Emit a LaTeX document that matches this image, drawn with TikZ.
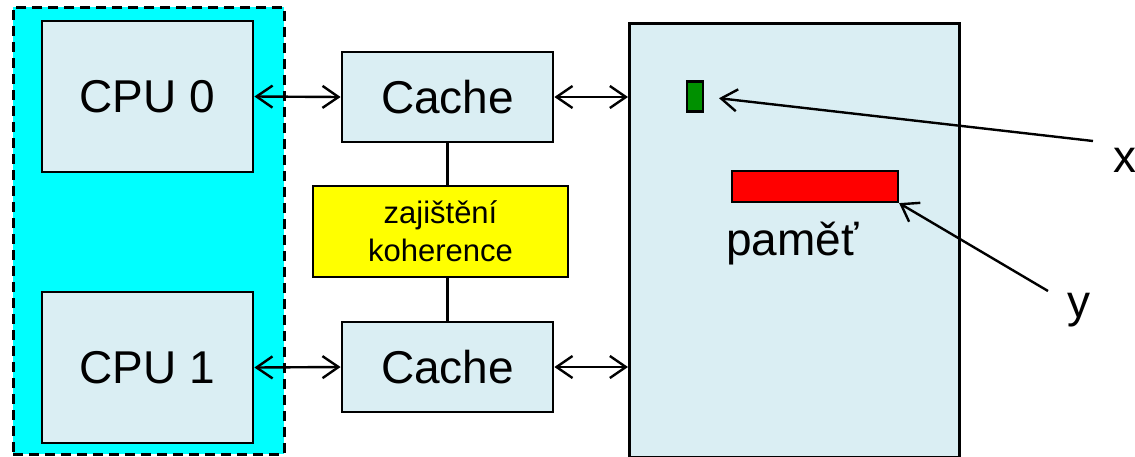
\documentclass[tikz,border=0pt]{standalone}
\usepackage{fontspec}
\setmainfont{Liberation Sans}
\usetikzlibrary{arrows.meta}
\definecolor{boxblue}{HTML}{DAEEF3}
\definecolor{cyanbg}{HTML}{00FFFF}
\definecolor{yel}{HTML}{FFFF00}
\definecolor{grn}{HTML}{009000}
\definecolor{rd}{HTML}{FF0000}
\tikzset{
  unitbox/.style={draw=black, line width=2.8pt, fill=boxblue, inner sep=0pt, font=\fontsize{46}{50}\selectfont},
  lbl/.style={inner sep=0pt, font=\fontsize{46}{50}\selectfont},
  biarr/.style={line width=2.4pt, {Straight Barb[length=16pt,width=22pt]}-{Straight Barb[length=16pt,width=22pt]}},
  onearr/.style={line width=2.4pt, -{Straight Barb[length=16pt,width=22pt]}},
  link/.style={line width=2.4pt}
}
\begin{document}
\begin{tikzpicture}[x=1pt,y=-1pt]
\useasboundingbox (0,0) rectangle (1135,456);
% cyan dashed area
\node[draw=black, fill=cyanbg, line width=2.6pt, dash pattern=on 10pt off 6pt, inner sep=0pt,
      minimum width=271pt, minimum height=447pt, anchor=north west] (area) at (12,6) {};
% memory
\node[unitbox, minimum width=330pt, minimum height=434pt, anchor=north west] (mem) at (628,22) {};
% CPUs
\node[unitbox, minimum width=211pt, minimum height=151pt] (cpu0) at (147.5,96.5) {CPU 0};
\node[unitbox, minimum width=211pt, minimum height=151pt] (cpu1) at (147.5,367.5) {CPU 1};
% caches
\node[unitbox, minimum width=211pt, minimum height=90pt] (c0) at (447.5,97) {Cache};
\node[unitbox, minimum width=211pt, minimum height=90pt] (c1) at (447.5,367) {Cache};
% coherence
\node[draw=black, line width=2.8pt, fill=yel, inner sep=0pt, minimum width=255pt, minimum height=91pt,
      align=center, font=\fontsize{31}{38}\selectfont] (coh) at (440.5,231.5) {zajištění\\koherence};
% memory cells
\node[draw=black, line width=2.2pt, fill=grn, inner sep=0pt, minimum width=16pt, minimum height=30pt] (xv) at (695,96.5) {};
\node[draw=black, line width=2.2pt, fill=rd, inner sep=0pt, minimum width=166pt, minimum height=31pt] (yv) at (815,186.5) {};
\node[lbl, anchor=base west] (pm) at (726,255) {paměť};
\node[lbl, anchor=base west] (xl) at (1113,172) {x};
\node[lbl, anchor=base west] (yl) at (1067,317) {y};
\coordinate (xs) at (1093,141);
\coordinate (ys) at (1048,291);
% connectors
\draw[biarr] (cpu0.east) -- (c0.west);
\draw[biarr] (cpu1.east) -- (c1.west);
\draw[biarr] (c0.east) -- (c0.east -| mem.west);
\draw[biarr] (c1.east) -- (c1.east -| mem.west);
\draw[link] (c0.south) -- (coh.north -| c0.south);
\draw[link] (c1.north) -- (coh.south -| c1.north);
\draw[onearr, shorten >=15pt] (xs) -- (xv.east);
\draw[onearr] (ys) -- (yv.south east);
\end{tikzpicture}
\end{document}
